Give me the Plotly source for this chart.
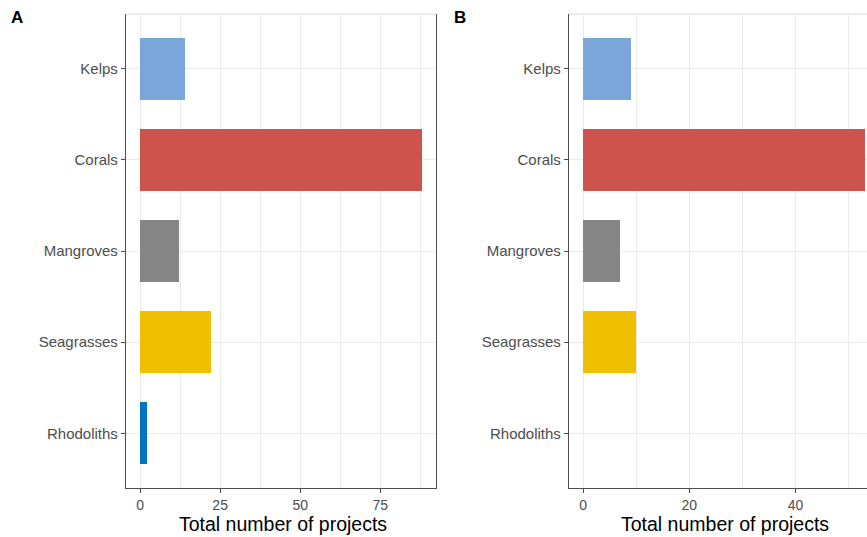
import plotly.graph_objects as go

# Habitat categories, top to bottom
habitats = ["Kelps", "Corals", "Mangroves", "Seagrasses", "Rhodoliths"]
bar_colors = ["#7AA6DC", "#CD534C", "#868686", "#EFC000", "#0073C2"]

# Total number of projects per habitat
projects_a = [14, 88, 12, 22, 2]
projects_b = [9, 53, 7, 10, 0]

W, H = 867, 537
FONT = "Liberation Sans, Arial, sans-serif"
AXIS_LINE = "#4d4d4d"
GRID = "#ebebeb"


def px(x):
    return x / W


def py(y):
    return 1 - y / H


fig = go.Figure()
fig.add_trace(go.Bar(y=habitats, x=projects_a, orientation="h", width=0.68,
                     marker=dict(color=bar_colors, line=dict(width=0)),
                     xaxis="x", yaxis="y", showlegend=False))
fig.add_trace(go.Bar(y=habitats, x=projects_b, orientation="h", width=0.68,
                     marker=dict(color=bar_colors, line=dict(width=0)),
                     xaxis="x2", yaxis="y2", showlegend=False))

y_dom = [py(488), py(14)]

common_x = dict(
    showline=True, linecolor=AXIS_LINE, linewidth=1.3,
    ticks="outside", ticklen=4, tickcolor=AXIS_LINE, tickwidth=1.2,
    tickfont=dict(family=FONT, size=14, color="#4d4d4d"),
    showgrid=True, gridcolor=GRID, gridwidth=1.3, zeroline=False,
    tick0=0,
)
common_y = dict(
    type="category", categoryorder="array", categoryarray=habitats,
    range=[4.6, -0.6], domain=y_dom,
    showline=True, linecolor=AXIS_LINE, linewidth=1.3,
    ticks="outside", ticklen=4, tickcolor=AXIS_LINE, tickwidth=1.2,
    tickfont=dict(family=FONT, size=15, color="#4d4d4d"),
    showgrid=True, gridcolor=GRID, gridwidth=1.3, zeroline=False,
)

fig.update_layout(
    width=W, height=H,
    margin=dict(l=0, r=0, t=0, b=0),
    paper_bgcolor="white", plot_bgcolor="white",
    bargap=0,
    xaxis=dict(common_x, domain=[px(126), px(436)], range=[-4.4, 92.4],
               dtick=25, anchor="y", mirror=False,
               minor=dict(dtick=12.5, tick0=0, showgrid=True,
                          gridcolor=GRID, gridwidth=1.3, ticklen=0)),
    yaxis=dict(common_y, anchor="x", mirror=True),
    xaxis2=dict(common_x, domain=[px(569), 1.0], range=[-2.65, 53.44],
                dtick=20, anchor="y2",
                minor=dict(dtick=10, tick0=0, showgrid=True,
                           gridcolor=GRID, gridwidth=1.3, ticklen=0)),
    yaxis2=dict(common_y, anchor="x2", mirror=False),
)

# Light top border of each panel
for xr, yr in (("x domain", "y domain"), ("x2 domain", "y2 domain")):
    fig.add_shape(type="line", xref=xr, yref=yr, x0=0, x1=1, y0=1, y1=1,
                  line=dict(color="#e6e6e6", width=1.3), layer="above")

# Axis titles and panel tags
for cx in (283, 725):
    fig.add_annotation(x=px(cx), y=py(524), xref="paper", yref="paper",
                       text="Total number of projects", showarrow=False,
                       font=dict(family=FONT, size=19.5, color="black"),
                       xanchor="center", yanchor="middle")
for tag, tx in (("A", 9), ("B", 452)):
    fig.add_annotation(x=px(tx), y=py(17), xref="paper", yref="paper",
                       text="<b>%s</b>" % tag, showarrow=False,
                       font=dict(family=FONT, size=17, color="black"),
                       xanchor="left", yanchor="middle")

fig.write_html("out.html")
